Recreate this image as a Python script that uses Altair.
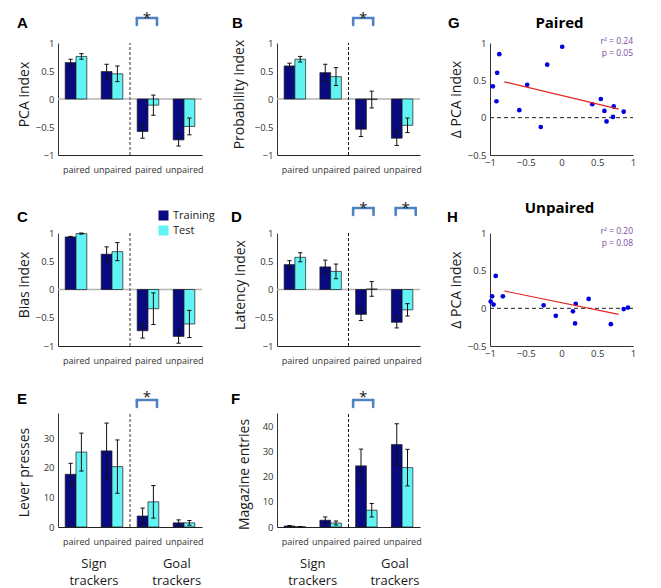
import json
import altair as alt
import pandas as pd

FONT = "Open Sans"
LETTER_FONT = "Liberation Sans"

# ---------------- data ----------------
x_labels = ["paired", "unpaired", "paired", "unpaired"]
series_names = ["Training", "Test"]
series_colors = ["#0a0a80", "#62f4f4"]

pca_train = [0.65, 0.49, -0.58, -0.73]
pca_train_err = [0.06, 0.13, 0.12, 0.11]
pca_test = [0.76, 0.45, -0.11, -0.49]
pca_test_err = [0.05, 0.14, 0.18, 0.15]

prob_train = [0.59, 0.47, -0.54, -0.70]
prob_train_err = [0.05, 0.15, 0.13, 0.13]
prob_test = [0.71, 0.40, -0.01, -0.47]
prob_test_err = [0.05, 0.16, 0.15, 0.13]

bias_train = [0.93, 0.625, -0.73, -0.83]
bias_train_err = [0.01, 0.13, 0.13, 0.12]
bias_test = [0.99, 0.67, -0.34, -0.61]
bias_test_err = [0.01, 0.16, 0.28, 0.24]

lat_train = [0.44, 0.40, -0.44, -0.58]
lat_train_err = [0.07, 0.12, 0.11, 0.10]
lat_test = [0.57, 0.32, 0.01, -0.36]
lat_test_err = [0.08, 0.13, 0.13, 0.11]

lever_train = [17.8, 25.7, 3.7, 1.4]
lever_train_err = [3.7, 9.4, 2.7, 1.0]
lever_test = [25.3, 20.4, 8.5, 1.4]
lever_test_err = [6.4, 9.0, 5.5, 0.8]

mag_train = [0.4, 2.7, 24.4, 32.9]
mag_train_err = [0.2, 1.3, 6.7, 8.3]
mag_test = [0.1, 1.6, 6.7, 23.7]
mag_test_err = [0.1, 0.8, 2.7, 7.3]

tracker_top = ["Sign", "Goal"]
tracker_bottom = ["trackers", "trackers"]
tracker_pos = [0.5, 2.8]

g_x = [-0.96, -0.91, -0.90, -0.87, -0.59, -0.48, -0.29, -0.20, 0.01, 0.43, 0.55, 0.60, 0.63, 0.72, 0.73, 0.87]
g_y = [0.42, 0.22, 0.60, 0.85, 0.10, 0.44, -0.125, 0.71, 0.95, 0.18, 0.25, 0.09, -0.05, 0.01, 0.15, 0.08]
g_fit_x = [-0.8, 0.8]
g_fit_y = [0.48, 0.115]
g_stats = ["r\u00b2 = 0.24", "p = 0.05"]

h_x = [-0.99, -0.97, -0.95, -0.92, -0.82, -0.25, -0.08, 0.16, 0.19, 0.20, 0.38, 0.69, 0.87, 0.93]
h_y = [0.09, 0.16, 0.05, 0.43, 0.16, 0.04, -0.10, -0.04, -0.20, 0.06, 0.125, -0.21, -0.01, 0.01]
h_fit_x = [-0.8, 0.8]
h_fit_y = [0.23, -0.08]
h_stats = ["r\u00b2 = 0.20", "p = 0.08"]

# ---------------- layout ----------------
ROW_TOP = [0, 18, 7]
ROW_H = [112, 113, 114]
COL_W = [150, 144, 143]
COL_DW = [144, 143, 143]
BRACKET_COLOR = "#4f82c2"
TEXT_COLOR = "#1a1a1a"
LABEL_COLOR = "#333333"
STAT_DY = [1, 12.5]


def letter_layer(letter, lx, ly):
    return alt.Chart(pd.DataFrame({"l": [letter]})).mark_text(
        font=LETTER_FONT, fontSize=15, fontWeight="bold", align="left",
        baseline="alphabetic", color="black"
    ).encode(text="l:N", x=alt.value(lx), y=alt.value(ly))


def y_axis(title, title_x, title_y, ticks):
    return alt.Axis(
        values=ticks, format="~r", title=title, titleX=title_x, titleY=title_y,
        titleAngle=-90, titleAlign="center", titleBaseline="alphabetic",
        titleFont=FONT, titleFontSize=14, titleFontWeight="normal", titleColor=TEXT_COLOR,
        ticks=False, grid=False, domainColor="#333", domainWidth=1,
        labelFont=FONT, labelFontSize=9.5, labelColor=LABEL_COLOR, labelPadding=4,
        labelOverlap=False, labelFlush=False,
    )


def bar_panel(letter, lpos, ytitle, title_x, title_dy, train, train_err, test, test_err,
              ydomain, yticks, row, col, dark_sep, brackets, br_y, star_b,
              zero_line=True, legend=False, trackers=False, anchor=False):
    t = ROW_TOP[row]
    h = ROW_H[row]
    H = t + h
    w = COL_DW[col]
    W = COL_W[col]
    recs = []
    for i in range(4):
        for s, vals, errs, x1, x2 in (("Training", train, train_err, i - 0.3, i),
                                      ("Test", test, test_err, i, i + 0.3)):
            v = vals[i]
            e = errs[i]
            xc = (x1 + x2) / 2
            recs.append(dict(series=s, v=v, base=0, lo=v - e, hi=v + e, x1=x1, x2=x2,
                             xc=xc, c1=xc - 0.06, c2=xc + 0.06))
    df = pd.DataFrame(recs)
    xs = alt.Scale(domain=[-0.5, 3.5], range=[0, w], nice=False, zero=False)
    ys = alt.Scale(domain=ydomain, range=[H, t], nice=False, zero=False)
    xaxis = alt.Axis(values=[0, 1, 2, 3], labelExpr=json.dumps(x_labels) + "[datum.value]",
                     title=None, ticks=False, grid=False, domainColor="#222", domainWidth=1,
                     labelFont=FONT, labelFontSize=9, labelColor=LABEL_COLOR, labelPadding=10,
                     labelFlush=False, labelOverlap=False)
    yaxis = y_axis(ytitle, title_x, t + h / 2 + title_dy, yticks)

    def X(f):
        return alt.X(f, scale=xs, axis=xaxis)

    def Y(f):
        return alt.Y(f, scale=ys, axis=yaxis)

    layers = []
    if zero_line:
        layers.append(alt.Chart(pd.DataFrame({"x": [-0.5], "x2": [3.5], "y": [0]})).mark_rule(
            color="#b5b5b5", strokeWidth=1.5).encode(x=X("x:Q"), x2="x2:Q", y=Y("y:Q")))
    sep_kw = dict(color="#111", strokeDash=[3, 2], strokeWidth=1) if dark_sep else \
        dict(color="#808080", strokeDash=[3, 2], strokeWidth=1.6)
    layers.append(alt.Chart(pd.DataFrame({"x": [1.5], "y": [ydomain[0]], "y2": [ydomain[1]]})).mark_rule(
        **sep_kw).encode(x=X("x:Q"), y=Y("y:Q"), y2="y2:Q"))

    if legend:
        leg = alt.Legend(orient="none", legendX=100, legendY=-5, title=None, symbolType="square",
                         symbolSize=100, symbolStrokeWidth=0, symbolOpacity=1, labelFont=FONT,
                         labelFontSize=11, labelColor=TEXT_COLOR, labelOffset=4, rowPadding=3, padding=0)
    else:
        leg = None
    layers.append(alt.Chart(df).mark_bar(stroke="#1a1a1a", strokeWidth=0.7).encode(
        x=X("x1:Q"), x2="x2:Q", y=Y("v:Q"), y2="base:Q",
        color=alt.Color("series:N", scale=alt.Scale(domain=series_names, range=series_colors), legend=leg)))
    layers.append(alt.Chart(df).mark_rule(color="#111", strokeWidth=1).encode(
        x=X("xc:Q"), y=Y("lo:Q"), y2="hi:Q"))
    for end in ("lo", "hi"):
        layers.append(alt.Chart(df).mark_rule(color="#111", strokeWidth=1).encode(
            x=X("c1:Q"), x2="c2:Q", y=Y(end + ":Q")))

    if brackets:
        bdf = pd.DataFrame({"xa": [b[0] for b in brackets], "xb": [b[1] for b in brackets],
                            "xm": [(b[0] + b[1]) / 2 for b in brackets], "star": ["*"] * len(brackets)})
        bkw = dict(color=BRACKET_COLOR, strokeWidth=2.6, strokeCap="round")
        layers.append(alt.Chart(bdf).mark_rule(**bkw).encode(
            x=X("xa:Q"), x2="xb:Q", y=alt.value(t + br_y[0])))
        for k in ("xa", "xb"):
            layers.append(alt.Chart(bdf).mark_rule(**bkw).encode(
                x=X(k + ":Q"), y=alt.value(t + br_y[0]), y2=alt.value(t + br_y[1])))
        layers.append(alt.Chart(bdf).mark_text(font=FONT, fontSize=15, align="center",
                                               baseline="alphabetic", color=TEXT_COLOR).encode(
            x=X("xm:Q"), y=alt.value(t + star_b), text="star:N"))

    if trackers:
        tdf = pd.DataFrame({"x": tracker_pos, "top": tracker_top, "bottom": tracker_bottom})
        for field, dy in (("top", 41), ("bottom", 58)):
            layers.append(alt.Chart(tdf).mark_text(font=FONT, fontSize=13, align="center",
                                                   baseline="alphabetic", color=TEXT_COLOR).encode(
                x=X("x:Q"), y=alt.value(t + h + dy), text=field + ":N"))

    layers.append(letter_layer(letter, lpos[0], t + lpos[1]))
    if anchor:
        layers.append(alt.Chart(pd.DataFrame({"a": [0]})).mark_rule(opacity=0).encode(
            x=alt.value(-50), x2=alt.value(-49), y=alt.value(-35), y2=alt.value(-35)))
    return alt.layer(*layers).properties(width=W, height=H)


def scatter_panel(letter, lpos, title, title_b, px, py, fx, fy, stats, row, col):
    t = ROW_TOP[row]
    h = ROW_H[row]
    H = t + h
    w = COL_DW[col]
    W = COL_W[col]
    xs = alt.Scale(domain=[-1, 1], range=[0, w], nice=False, zero=False)
    ys = alt.Scale(domain=[-0.5, 1], range=[H, t], nice=False, zero=False)
    xaxis = alt.Axis(values=[-1, -0.5, 0, 0.5, 1], format="~r", title=None, ticks=False, grid=False,
                     domainColor="#333", labelFont=FONT, labelFontSize=9.5, labelColor=LABEL_COLOR,
                     labelPadding=2, labelFlush=False, labelOverlap=False)
    yaxis = y_axis("\u0394 PCA index", -30, t + h / 2, [-0.5, 0, 0.5, 1])

    def X(f):
        return alt.X(f, scale=xs, axis=xaxis)

    def Y(f):
        return alt.Y(f, scale=ys, axis=yaxis)

    layers = []
    layers.append(alt.Chart(pd.DataFrame({"x": [-1], "x2": [1], "y": [0]})).mark_rule(
        color="#222", strokeDash=[4, 3], strokeWidth=1).encode(x=X("x:Q"), x2="x2:Q", y=Y("y:Q")))
    layers.append(alt.Chart(pd.DataFrame({"x": px, "y": py})).mark_circle(
        size=22, color="#0000e0", opacity=1).encode(x=X("x:Q"), y=Y("y:Q")))
    layers.append(alt.Chart(pd.DataFrame({"x": fx, "y": fy})).mark_line(
        color="#e3241f", strokeWidth=1.2).encode(x=X("x:Q"), y=Y("y:Q")))
    for i, s in enumerate(stats):
        layers.append(alt.Chart(pd.DataFrame({"s": [s]})).mark_text(
            font=FONT, fontSize=8.5, align="right", baseline="alphabetic", color="#7b4b9e").encode(
            text="s:N", x=alt.value(w), y=alt.value(t + STAT_DY[i])))
    layers.append(alt.Chart(pd.DataFrame({"s": [title]})).mark_text(
        font=FONT, fontSize=15, fontWeight="bold", align="center", baseline="alphabetic",
        color="black").encode(text="s:N", x=alt.value(w / 2 - 2), y=alt.value(t + title_b)))
    layers.append(letter_layer(letter, lpos[0], t + lpos[1]))
    return alt.layer(*layers).properties(width=W, height=H)


IDX_TICKS = [-1, -0.5, 0, 0.5, 1]
A = bar_panel("A", (-41, -15), "PCA index", -30, -5, pca_train, pca_train_err, pca_test, pca_test_err,
              [-1, 1], IDX_TICKS, 0, 0, False, [(1.69, 2.25)], (-25, -18), -20, anchor=True)
B = bar_panel("B", (-45, -15), "Probability index", -34, -5, prob_train, prob_train_err, prob_test, prob_test_err,
              [-1, 1], IDX_TICKS, 0, 1, True, [(1.63, 2.19)], (-25, -18), -20)
G = scatter_panel("G", (-42, -15), "Paired", -15, g_x, g_y, g_fit_x, g_fit_y, g_stats, 0, 2)
C = bar_panel("C", (-41, -11), "Bias index", -30, -5, bias_train, bias_train_err, bias_test, bias_test_err,
              [-1, 1], IDX_TICKS, 1, 0, False, [], (-25, -18), -20, legend=True)
D = bar_panel("D", (-46, -11), "Latency index", -33, -5, lat_train, lat_train_err, lat_test, lat_test_err,
              [-1, 1], IDX_TICKS, 1, 1, True, [(1.63, 2.2), (2.82, 3.38)], (-25, -18), -20)
H = scatter_panel("H", (-43, -11), "Unpaired", -20, h_x, h_y, h_fit_x, h_fit_y, h_stats, 1, 2)
E = bar_panel("E", (-41, -9), "Lever presses", -30, 2, lever_train, lever_train_err, lever_test, lever_test_err,
              [0, 38.5], [0, 10, 20, 30], 2, 0, False, [(1.69, 2.25)], (-13, -6), -11,
              zero_line=False, trackers=True)
F = bar_panel("F", (-46, -9), "Magazine entries", -29, 4, mag_train, mag_train_err, mag_test, mag_test_err,
              [0, 45.5], [0, 10, 20, 30, 40], 2, 1, True, [(1.63, 2.19)], (-13, -6), -11,
              zero_line=False, trackers=True)

chart = alt.concat(
    A, B, G, C, D, H, E, F, columns=3, spacing={"row": 60, "column": 69}, bounds="flush"
).resolve_scale(
    x="independent", y="independent", color="independent"
).properties(
    padding=0, background="white"
).configure_view(stroke=None)

chart.save("out.html", embed_options={"renderer": "svg", "actions": False})
